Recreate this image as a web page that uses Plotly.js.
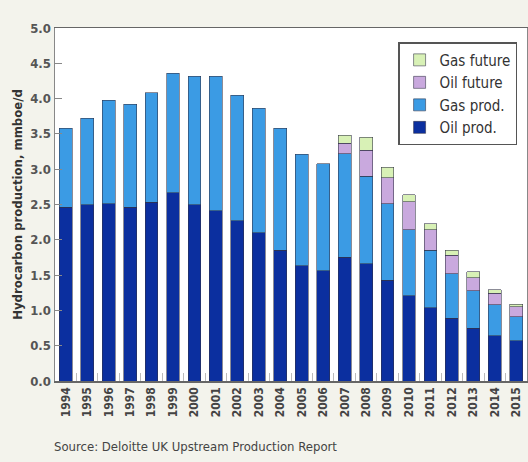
<!DOCTYPE html>
<html>
<head>
<meta charset="utf-8">
<script src="https://cdn.plot.ly/plotly-3.0.1.min.js"></script>
<style>html,body{margin:0;padding:0;background:#f3f3ec;}#chart{width:528px;height:462px;}</style>
</head>
<body>
<div id="chart"></div>
<script>
var years = ["1994","1995","1996","1997","1998","1999","2000","2001","2002","2003","2004","2005","2006","2007","2008","2009","2010","2011","2012","2013","2014","2015"];
var oilProd   = [2.46,2.50,2.51,2.46,2.53,2.67,2.50,2.41,2.27,2.10,1.85,1.63,1.56,1.75,1.66,1.43,1.21,1.04,0.89,0.75,0.64,0.57];
var gasProd   = [1.12,1.22,1.47,1.46,1.55,1.69,1.82,1.91,1.78,1.76,1.73,1.58,1.52,1.47,1.24,1.08,0.93,0.81,0.63,0.53,0.44,0.34];
var oilFuture = [null,null,null,null,null,null,null,null,null,null,null,null,null,0.15,0.37,0.37,0.40,0.29,0.26,0.18,0.16,0.14];
var gasFuture = [null,null,null,null,null,null,null,null,null,null,null,null,null,0.11,0.18,0.15,0.10,0.09,0.07,0.09,0.05,0.04];
var seriesNames = ["Oil prod.","Gas prod.","Oil future","Gas future"];
var seriesColors = ["#0b2f9f","#3b9be4","#c9a9de","#d8f1b6"];

var FONT = "'DejaVu Sans Condensed', 'Liberation Sans Narrow', sans-serif";
var outline = {color: "rgba(50,50,70,0.7)", width: 0.8};
var vals = [oilProd, gasProd, oilFuture, gasFuture];
var data = vals.map(function(v, i){
  return {type: "bar", x: years, y: v, name: seriesNames[i],
          marker: {color: seriesColors[i], line: outline}, hoverinfo: "x+y+name"};
});

var layout = {
  width: 528, height: 462,
  margin: {l: 55, r: 1, t: 28, b: 81, pad: 0},
  paper_bgcolor: "#f3f3ec",
  plot_bgcolor: "#ffffff",
  barmode: "stack",
  bargap: 0.4,
  showlegend: true,
  font: {family: FONT, color: "#444"},
  legend: {
    x: 0.979, y: 0.96, xanchor: "right", yanchor: "top",
    bgcolor: "#ffffff", bordercolor: "#555", borderwidth: 1.5,
    traceorder: "reversed",
    font: {family: FONT, size: 15, color: "#333"}
  },
  xaxis: {
    type: "category",
    tickangle: -90,
    tickfont: {family: FONT, size: 12, color: "#444", weight: "bold"},
    ticks: "inside", tickson: "boundaries", ticklen: 8, tickcolor: "#bbbbbb", tickwidth: 1,
    showline: true, linecolor: "#666", linewidth: 1.5, mirror: true,
    showgrid: false, zeroline: false
  },
  yaxis: {
    range: [0, 5], dtick: 0.5, tickformat: ".1f",
    tickfont: {family: FONT, size: 13, color: "#555", weight: "bold"},
    ticks: "inside", ticklen: 7, tickcolor: "#888", tickwidth: 1,
    showline: true, linecolor: "#888", linewidth: 1.5, mirror: true,
    showgrid: false, zeroline: false,
    title: {text: "Hydrocarbon production, mmboe/d", standoff: 4,
            font: {family: FONT, size: 13, color: "#333", weight: "bold"}}
  },
  annotations: [{
    text: "Source: Deloitte UK Upstream Production Report",
    xref: "paper", yref: "paper", x: -0.007, y: -0.16, xanchor: "left", yanchor: "top",
    showarrow: false, font: {family: FONT, size: 13, color: "#444"}
  }]
};

Plotly.newPlot("chart", data, layout, {displayModeBar: false, staticPlot: true});
</script>
</body>
</html>
